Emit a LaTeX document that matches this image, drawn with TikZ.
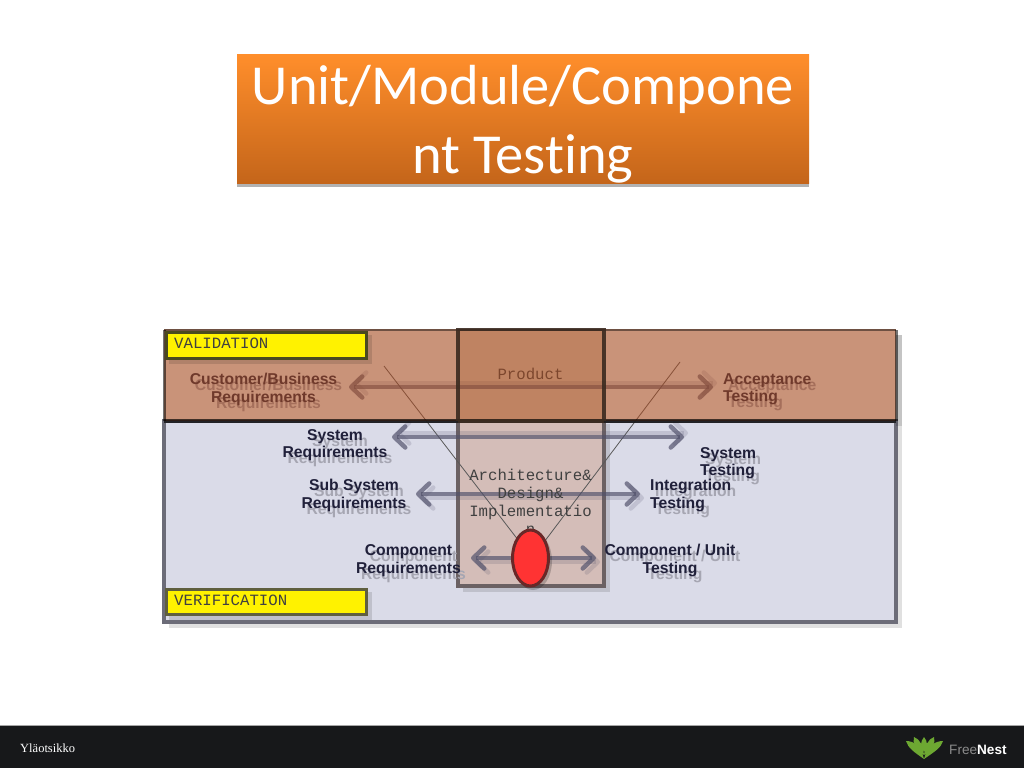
\documentclass[tikz,border=0pt]{standalone}
\usepackage{fontspec}
\setmainfont{Liberation Sans}
\newfontfamily\titlefont[Ligatures=NoCommon]{Carlito}
\newfontfamily\monofont{Liberation Mono}
\newfontfamily\footfont{Liberation Serif}
\usetikzlibrary{arrows.meta,shapes.geometric,positioning}
\definecolor{lavband}{HTML}{DADBE8}
\definecolor{lavedge}{HTML}{6C6C78}
\definecolor{brownfill}{RGB}{165,75,33}
\definecolor{boxlow}{HTML}{D4BDB8}
\definecolor{boxup}{HTML}{E8D9C5}
\definecolor{boxedge}{HTML}{6B6163}
\definecolor{boxdark}{HTML}{3A2A20}
\definecolor{inktext}{HTML}{20203A}
\definecolor{shadowtext}{HTML}{A6A6B2}
\definecolor{arrowcol}{HTML}{50506A}
\definecolor{leafgreen}{HTML}{6DA832}
\definecolor{titletop}{RGB}{255,142,43}
\definecolor{titlebot}{RGB}{196,101,26}
\definecolor{tagedgea}{RGB}{74,74,32}
\definecolor{tagedgeb}{RGB}{95,95,63}
\definecolor{ovaledge}{RGB}{105,40,40}
\definecolor{ovalfill}{RGB}{255,51,51}
\definecolor{footbar}{RGB}{23,24,26}
\tikzset{
  x=1pt,y=-1pt,
  lblmain/.style={font=\fontsize{15.7}{17.5}\selectfont\bfseries,text=inktext,inner sep=0pt,align=center},
  lblleft/.style={lblmain,align=left},
  lblshadow/.style={text=shadowtext},
  monotext/.style={font=\fontsize{15.7}{18}\selectfont\monofont,text=black!75,inner sep=0pt,align=center},
  softshadow/.style={fill=black,opacity=.12,draw=none},
  barbtip/.tip={Straight Barb[length=11pt,width=21pt,line width=4.5pt,round]},
  twoway/.style={draw=arrowcol,opacity=.68,line width=4.5pt,barbtip-barbtip},
  twowayshadow/.style={draw=arrowcol,opacity=.18,line width=4.5pt,barbtip-barbtip},
  tagbox/.style={fill=yellow,line width=3pt,inner sep=0pt},
  vline/.style={draw=black!65,line width=.8pt},
  leafshape/.style={fill=leafgreen,draw=none},
}
\newcommand{\duallabel}[6]{% name, x, y, style, anchor, text
  \node[#4,lblshadow,anchor=#5] (#1s) at (#2+5,#3+6) {#6};
  \node[#4,anchor=#5] (#1) at (#2,#3) {#6};
}
\begin{document}
\begin{tikzpicture}
\useasboundingbox (0,0) rectangle (1024,768);
\fill[white] (0,0) rectangle (1024,768);

% title
\fill[black!30] (237,60) rectangle (809,186.5);
\shade[top color=titletop,bottom color=titlebot] (237,54.5) rectangle (809,183.5);
\node[font=\fontsize{56.5}{69}\selectfont\titlefont,text=white,align=center,inner sep=0pt,anchor=center] (title) at (523,124) {Unit/Module/Compone\\nt Testing};

% verification band and shadows
\fill[softshadow] (169,335) rectangle (902,628);
\draw[fill=lavband,draw=lavedge,line width=3.5pt] (164,421) rectangle (896,622);
\fill[white] (164,329) rectangle (896,420);

% central box
\fill[softshadow] (463,424) rectangle (610,592);
\fill[boxlow] (458,421) rectangle (604,586);
\fill[boxup] (458,329) rectangle (604,421);
\draw[draw=boxedge,line width=4pt] (458,421) -- (458,586) -- (604,586) -- (604,421);

% V lines
\coordinate (vleft) at (384,366);
\coordinate (vright) at (680,362);
\coordinate (vtip) at (532,558);
\draw[vline] (vleft) -- (vtip);
\draw[vline] (vright) -- (vtip);

% arrows
\coordinate (a1l) at (349,387); \coordinate (a1r) at (713,387);
\coordinate (a2l) at (392,437); \coordinate (a2r) at (684,437);
\coordinate (a3l) at (416,494); \coordinate (a3r) at (640,494);
\coordinate (a4l) at (471,558); \coordinate (a4r) at (596,558);
\draw[twowayshadow,transform canvas={xshift=4pt,yshift=4pt}] (a1l) -- (a1r);
\draw[twowayshadow,transform canvas={xshift=4pt,yshift=4pt}] (a2l) -- (a2r);
\draw[twowayshadow,transform canvas={xshift=4pt,yshift=-4pt}] (a3l) -- (a3r);
\draw[twowayshadow,transform canvas={xshift=4pt,yshift=-4pt}] (a4l) -- (a4r);
\draw[twoway] (a1l) -- (a1r);
\draw[twoway] (a2l) -- (a2r);
\draw[twoway] (a3l) -- (a3r);
\draw[twoway] (a4l) -- (a4r);

% labels
\duallabel{custreq}{263.5}{389.5}{lblmain}{center}{Customer/Business\\Requirements}
\duallabel{accept}{723}{389.5}{lblleft}{west}{Acceptance\\Testing}
\duallabel{sysreq}{335}{445}{lblmain}{center}{System\\Requirements}
\duallabel{systest}{700}{463}{lblleft}{west}{System\\Testing}
\duallabel{subreq}{354}{495.5}{lblmain}{center}{Sub System\\Requirements}
\duallabel{integ}{650}{495.5}{lblleft}{west}{Integration\\Testing}
\duallabel{compreq}{408.5}{560.5}{lblmain}{center}{Component\\Requirements}
\duallabel{comptest}{670}{560.5}{lblmain}{center}{Component / Unit\\Testing}

% mono texts in the centre
\node[monotext,anchor=north] (product) at (530.5,368) {Product};
\node[monotext,anchor=north] (arch) at (530.5,469) {Architecture\&\\Design\&\\Implementatio\\n};

% validation band, translucent over what lies beneath
\fill[softshadow] (896,335) rectangle (902,426);
\fill[brownfill,opacity=.6] (164,329) rectangle (896,421);
\draw[draw=black,opacity=.45,line width=2.5pt] (164,330) -- (896,330);
\draw[draw=black,opacity=.68,line width=3.5pt] (164,421) -- (896,421);
\draw[draw=black,opacity=.55,line width=3pt] (164,330) -- (164,421);
\draw[draw=black,opacity=.55,line width=3pt] (896,330) -- (896,421);

% upper box edge
\draw[draw=boxdark,opacity=.9,line width=3.5pt] (458,421) -- (458,329.5) -- (604,329.5) -- (604,421);
\draw[draw=boxdark,opacity=.9,line width=3.5pt] (458,421) -- (604,421);

% tags
\fill[softshadow] (169,335) rectangle (372,364);
\node[tagbox,draw=tagedgea,minimum width=200pt,minimum height=26pt,anchor=north west] (valtag) at (164.5,331) {};
\node[monotext,anchor=west] (valtext) at (174,343) {VALIDATION};
\fill[softshadow] (169,592) rectangle (372,620);
\node[tagbox,draw=tagedgeb,minimum width=200pt,minimum height=25pt,anchor=north west] (vertag) at (164.5,587.5) {};
\node[monotext,anchor=west] (vertext) at (174,600) {VERIFICATION};

% red ellipse
\fill[black,opacity=.2] (533,561) ellipse [x radius=19,y radius=29];
\node[ellipse,draw=ovaledge,line width=3pt,fill=ovalfill,minimum width=36pt,minimum height=56pt,inner sep=0pt] (unit) at (530.5,558) {};

% footer
\fill[black!35] (0,725) rectangle (1024,726);
\fill[footbar] (0,726) rectangle (1024,768);
\node[font=\fontsize{12.5}{14}\selectfont\footfont,text=white,anchor=west,inner sep=0pt] (foot) at (20,748) {Yläotsikko};
\node[font=\fontsize{13.6}{16}\selectfont,text=black!45,anchor=west,inner sep=0pt] (brand) at (949,749.5) {Free\textcolor{white}{\bfseries Nest}};

% logo
\fill[leafshape] (924,759) .. controls (914,752) and (908,748) .. (906,741) .. controls (914,741) and (921,746) .. (924,759);
\fill[leafshape] (924,759) .. controls (934,752) and (941,748) .. (943,741) .. controls (935,741) and (927,746) .. (924,759);
\fill[leafshape] (924,755) .. controls (916,750) and (912,743) .. (914,737) .. controls (920,739) and (923,746) .. (924,755);
\fill[leafshape] (924,755) .. controls (932,750) and (936,743) .. (934,737) .. controls (928,739) and (925,746) .. (924,755);
\fill[leafshape] (924,752) .. controls (920,747) and (920,742) .. (924,737) .. controls (928,742) and (928,747) .. (924,752);
\end{tikzpicture}
\end{document}
